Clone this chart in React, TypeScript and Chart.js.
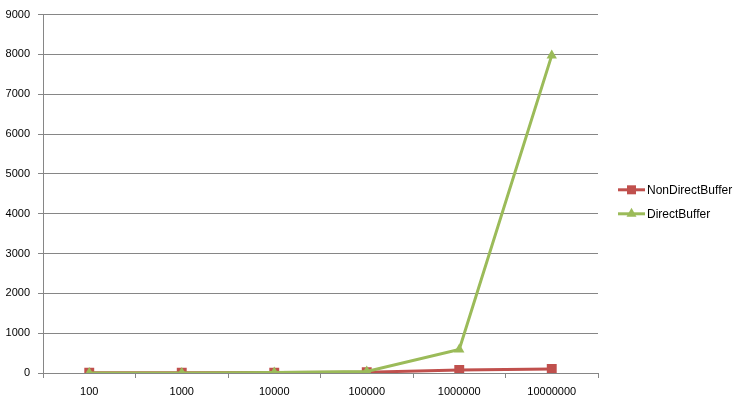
import React, { useEffect, useRef } from "react";
import { Chart, registerables } from "chart.js";

Chart.register(...registerables);

const categories = ["100", "1000", "10000", "100000", "1000000", "10000000"];
const nonDirectBuffer = [5, 5, 10, 20, 75, 100];
const directBuffer = [2, 3, 15, 40, 590, 7975];
const yMin = 0;
const yMax = 9000;
const yStep = 1000;

const RED = "#C0504D";
const GREEN = "#9BBB59";
const GRID = "#868686";
const FONT = "'Liberation Sans', Arial, sans-serif";

const legendPlugin = {
  id: "excelLegend",
  afterDraw(chart: any) {
    const ctx = chart.ctx;
    const items = [
      { label: "NonDirectBuffer", color: RED, style: "rect" },
      { label: "DirectBuffer", color: GREEN, style: "triangle" },
    ];
    const x0 = chart.chartArea.right + 20;
    const yc = (chart.chartArea.top + chart.chartArea.bottom) / 2;
    ctx.save();
    items.forEach((it, i) => {
      const y = yc - 4 + i * 24;
      ctx.strokeStyle = it.color;
      ctx.lineWidth = 3;
      ctx.beginPath();
      ctx.moveTo(x0, y);
      ctx.lineTo(x0 + 27, y);
      ctx.stroke();
      ctx.fillStyle = it.color;
      if (it.style === "rect") {
        ctx.fillRect(x0 + 9, y - 4.5, 9, 9);
      } else {
        ctx.beginPath();
        ctx.moveTo(x0 + 13.5, y - 6);
        ctx.lineTo(x0 + 18.5, y + 3);
        ctx.lineTo(x0 + 8.5, y + 3);
        ctx.closePath();
        ctx.fill();
      }
      ctx.fillStyle = "#000";
      ctx.font = "12px " + FONT;
      ctx.textBaseline = "middle";
      ctx.textAlign = "left";
      ctx.fillText(it.label, x0 + 29, y + 1);
    });
    ctx.restore();
  },
};

export default function App() {
  const ref = useRef<HTMLCanvasElement | null>(null);
  useEffect(() => {
    document.body.style.margin = "0";
    const chart = new Chart(ref.current as HTMLCanvasElement, {
      type: "line",
      data: {
        labels: categories,
        datasets: [
          {
            label: "NonDirectBuffer",
            data: nonDirectBuffer,
            borderColor: RED,
            backgroundColor: RED,
            borderWidth: 3,
            pointStyle: "rect",
            pointRadius: 7,
            pointBorderWidth: 0,
            pointBackgroundColor: RED,
            tension: 0,
            order: 1,
          },
          {
            label: "DirectBuffer",
            data: directBuffer,
            borderColor: GREEN,
            backgroundColor: GREEN,
            borderWidth: 3,
            pointStyle: "triangle",
            pointRadius: 6,
            pointBorderWidth: 0,
            pointBackgroundColor: GREEN,
            tension: 0,
            order: 0,
          },
        ],
      },
      options: {
        animation: false,
        responsive: false,
        maintainAspectRatio: false,
        layout: { padding: { left: 0, right: 147, top: 13, bottom: 0 } },
        plugins: { legend: { display: false }, tooltip: { enabled: false } },
        scales: {
          x: {
            offset: true,
            afterFit: (s: any) => {
              s.height = 28;
            },
            grid: {
              offset: true,
              drawOnChartArea: false,
              drawTicks: true,
              tickLength: 5,
              color: GRID,
            },
            border: { color: GRID, width: 1 },
            ticks: {
              color: "#000",
              font: { size: 11, family: FONT },
              padding: 7,
              maxRotation: 0,
              autoSkip: false,
            },
          },
          y: {
            min: yMin,
            max: yMax,
            afterFit: (s: any) => {
              s.width = 43;
            },
            grid: {
              color: GRID,
              drawTicks: true,
              tickLength: 5,
            },
            border: { color: GRID, width: 1 },
            ticks: {
              stepSize: yStep,
              color: "#000",
              font: { size: 11, family: FONT },
              padding: 8,
              callback: (v: any) => String(v),
            },
          },
        },
      },
      plugins: [legendPlugin],
    });
    return () => chart.destroy();
  }, []);
  return (
    <div style={{ position: "absolute", left: 0, top: 0, width: 745, height: 401, background: "#fff" }}>
      <canvas ref={ref} width={745} height={401} style={{ width: 745, height: 401 }} />
    </div>
  );
}
